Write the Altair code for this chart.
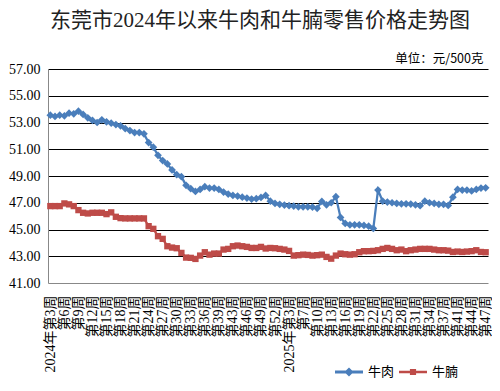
import altair as alt
import pandas as pd

title_text = "东莞市2024年以来牛肉和牛腩零售价格走势图"
unit_text = "单位：元/500克"
series_names = ["牛肉", "牛腩"]
series_colors = ["#4A7EBB", "#BE4B48"]

weeks_2024 = [3, 4, 5, 6, 7, 8, 9, 10, 11, 12, 13, 14, 15, 16, 17, 18, 19, 20, 21,
              22, 23, 24, 25, 26, 27, 28, 29, 30, 31, 32, 33, 34, 35, 36, 37, 38, 39,
              41, 42, 43, 44, 45, 46, 47, 48, 49, 50, 51, 52]
weeks_2025 = [1, 2, 3, 4, 6, 7, 8, 9, 10, 11, 12, 13, 14, 15, 16, 17, 18, 19, 20,
              21, 22, 23, 24, 25, 26, 27, 28, 29, 30, 31, 32, 33, 34, 35, 36, 37, 38,
              39, 41, 42, 43, 44, 45, 46, 47]

beef = [53.55, 53.45, 53.55, 53.5, 53.7, 53.65, 53.85, 53.6, 53.35, 53.15,
        53.0, 53.2, 53.05, 52.95, 52.85, 52.75, 52.55, 52.4, 52.25, 52.25,
        52.15, 51.5, 51.15, 50.55, 50.15, 49.9, 49.45, 49.1, 48.95, 48.3,
        48.05, 47.85, 48.0, 48.2, 48.1, 48.1, 48.0, 47.8, 47.65, 47.55,
        47.5, 47.42, 47.35, 47.28, 47.3, 47.4, 47.55, 47.12, 46.95, 46.88,
        46.83, 46.78, 46.75, 46.7, 46.7, 46.7, 46.68, 46.58, 47.1, 46.85,
        47.0, 47.45, 45.9, 45.45, 45.35, 45.35, 45.35, 45.3, 45.25, 45.08,
        47.95, 47.12, 47.05, 47.0, 46.95, 46.92, 46.92, 46.9, 46.85, 46.78,
        47.12, 47.0, 46.95, 46.88, 46.88, 46.8, 47.42, 48.0, 47.95, 47.95,
        47.88, 48.0, 48.1, 48.12]

brisket = [46.75, 46.75, 46.75, 46.95, 46.88, 46.75, 46.45, 46.25, 46.2, 46.25,
           46.25, 46.25, 46.15, 46.28, 45.95, 45.85, 45.83, 45.83, 45.83, 45.83,
           45.83, 45.25, 45.05, 44.5, 44.3, 43.75, 43.65, 43.6, 43.25, 42.9,
           42.88, 42.8, 43.05, 43.3, 43.12, 43.2, 43.2, 43.5, 43.55, 43.75,
           43.8, 43.75, 43.7, 43.62, 43.62, 43.7, 43.58, 43.62, 43.6, 43.55,
           43.5, 43.4, 43.05, 43.08, 43.12, 43.1, 43.05, 43.08, 43.12, 42.95,
           42.82, 43.05, 43.2, 43.15, 43.12, 43.15, 43.3, 43.38, 43.38, 43.4,
           43.45, 43.55, 43.62, 43.55, 43.45, 43.5, 43.38, 43.45, 43.5, 43.55,
           43.55, 43.55, 43.5, 43.45, 43.45, 43.42, 43.32, 43.35, 43.32, 43.35,
           43.38, 43.45, 43.32, 43.3]

y_ticks = [41, 43, 45, 47, 49, 51, 53, 55, 57]

categories = [f"2024年第{w}周" for w in weeks_2024] + [f"2025年第{w}周" for w in weeks_2025]
tick_values = categories[::3]
full_labels = ["2024年第3周", "2025年第3周"]

rows = []
for name, vals in zip(series_names, [beef, brisket]):
    for c, v in zip(categories, vals):
        rows.append({"周": c, "品种": name, "价格": v})
df = pd.DataFrame(rows)

serif_cjk = "'Liberation Serif', 'Noto Sans CJK SC'"

label_expr = (
    "indexof(" + str(full_labels).replace('"', "'") + ", datum.value) >= 0 ? "
    "datum.value : slice(datum.value, 5)"
)

x_enc = alt.X(
    "周:N",
    sort=categories,
    scale=alt.Scale(type="point", padding=0.5),
    axis=alt.Axis(
        values=tick_values,
        labelExpr=label_expr,
        labelAngle=270,
        labelAlign="right",
        labelBaseline="middle",
        labelFont=serif_cjk,
        labelFontSize=14,
        labelColor="#000000",
        labelPadding=12,
        labelOverlap=False,
        ticks=False,
        tickSize=0,
        domainColor="#888888",
        domainWidth=1,
        grid=False,
        title=None,
    ),
)

y_enc = alt.Y(
    "价格:Q",
    scale=alt.Scale(domain=[41, 57], nice=False, zero=False),
    axis=alt.Axis(
        values=y_ticks,
        format=".2f",
        labelFont="Liberation Serif",
        labelFontSize=14,
        labelColor="#000000",
        labelPadding=8,
        ticks=False,
        tickSize=0,
        domainColor="#888888",
        domainWidth=1,
        grid=True,
        gridColor={"condition": {"test": "datum.value == 41", "value": "transparent"},
                   "value": "#000000"},
        gridWidth=1.2,
        title=unit_text,
        titleAngle=0,
        titleAlign="right",
        titleBaseline="alphabetic",
        titleX=435,
        titleY=-7,
        titleFont="Noto Sans CJK SC",
        titleFontSize=12.5,
        titleFontWeight="normal",
        titleColor="#000000",
    ),
)

base = alt.Chart(df).encode(x=x_enc, y=y_enc)

beef_line = base.transform_filter(alt.datum["品种"] == "牛肉").mark_line(
    color=series_colors[0], strokeWidth=2.25)
beef_pts = base.transform_filter(alt.datum["品种"] == "牛肉").mark_point(
    shape="diamond", filled=True, size=60, color=series_colors[0], opacity=1)
brisket_line = base.transform_filter(alt.datum["品种"] == "牛腩").mark_line(
    color=series_colors[1], strokeWidth=2.25)
brisket_pts = base.transform_filter(alt.datum["品种"] == "牛腩").mark_point(
    shape="square", filled=True, size=40, color=series_colors[1], opacity=1)

legend_paths = [
    "M-1,-0.1H1V0.1H-1Z M0,-0.33L0.33,0L0,0.33L-0.33,0Z",
    "M-1,-0.09H1V0.09H-1Z M-0.22,-0.22H0.22V0.22H-0.22Z",
]
legend_cfg = dict(
    title=None,
    orient="none",
    legendX=287,
    legendY=289,
    direction="horizontal",
    symbolSize=784,
    symbolStrokeWidth=0,
    labelFont="Noto Sans CJK SC",
    labelFontSize=13,
    labelColor="#000000",
    labelOffset=5,
    columnPadding=4,
    padding=0,
)
legend_layer = base.transform_filter("false").mark_point(filled=True, opacity=1).encode(
    color=alt.Color("品种:N", scale=alt.Scale(domain=series_names, range=series_colors),
                    legend=alt.Legend(**legend_cfg)),
    shape=alt.Shape("品种:N", scale=alt.Scale(domain=series_names, range=legend_paths),
                    legend=alt.Legend(**legend_cfg)),
)

chart = alt.layer(beef_line, brisket_line, beef_pts, brisket_pts, legend_layer).properties(
    width=440,
    height=214,
    autosize=alt.AutoSizeParams(type="none"),
    padding={"left": 40, "top": 61, "right": 4, "bottom": 108},
    title=alt.TitleParams(
        text=title_text,
        font=serif_cjk,
        fontSize=21,
        fontWeight="normal",
        color="#222222",
        anchor="middle",
        frame="group",
        dx=-8,
        offset=0,
        baseline="bottom",
    ),
).configure_view(stroke=None)

chart.save("out.html", embed_options={"renderer": "svg", "actions": False})
